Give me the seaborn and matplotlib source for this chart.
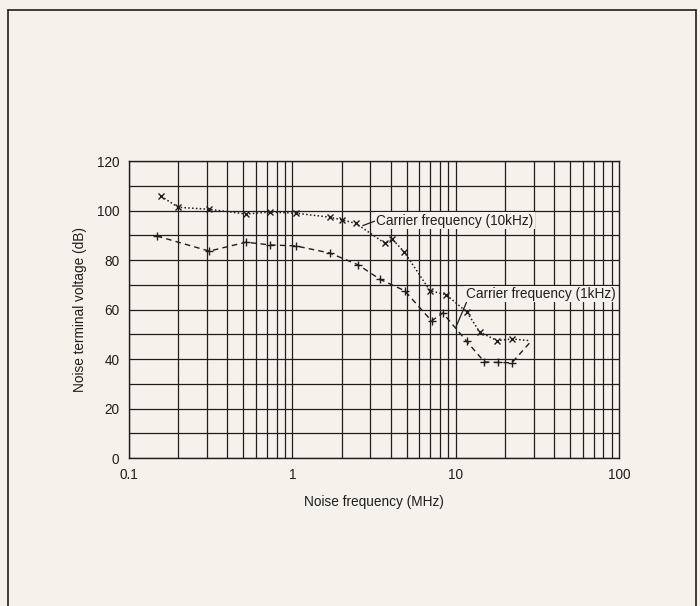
import matplotlib
matplotlib.use("Agg")
import matplotlib.pyplot as plt
import seaborn as sns
import pandas as pd
from matplotlib.lines import Line2D

# data
freq_10k = [0.157, 0.2, 0.31, 0.52, 0.73, 1.05, 1.70, 2.02, 2.45, 3.7, 4.1, 4.85,
            6.97, 8.73, 11.7, 14.0, 17.9, 22.1, 28.7]
db_10k = [105.8, 101.3, 100.5, 98.6, 99.4, 98.9, 97.3, 96.2, 94.8, 86.7, 88.4, 83.2,
          67.6, 66.0, 59.0, 51.0, 47.4, 48.1, 47.4]

freq_1k = [0.148, 0.31, 0.52, 0.73, 1.05, 1.70, 2.54, 3.44, 4.87, 7.12, 8.34, 11.7,
           15.0, 18.1, 22.1, 28.7]
db_1k = [89.7, 83.6, 87.2, 86.1, 85.7, 82.8, 78.0, 72.2, 67.6, 55.4, 58.6, 47.1,
         38.8, 38.6, 38.5, 46.9]

x_ticks = [0.1, 1, 10, 100]
x_tick_labels = ["0.1", "1", "10", "100"]
y_ticks = [0, 20, 40, 60, 80, 100, 120]

label_10k = "Carrier frequency (10kHz)"
label_1k = "Carrier frequency (1kHz)"

bg = "#f5f2eb"
ink = "#1e1e1e"
fs = 9.8

sns.set_theme(style="white")
plt.rcParams["font.family"] = ["Liberation Sans", "DejaVu Sans"]

fig = plt.figure(figsize=(7.0, 6.06), dpi=100, facecolor=bg)
ax = fig.add_axes([0.1843, 0.2442, 0.70, 0.4901])
ax.set_facecolor(bg)

df_10k = pd.DataFrame({"freq": freq_10k, "db": db_10k})
df_1k = pd.DataFrame({"freq": freq_1k, "db": db_1k})

sns.lineplot(data=df_10k, x="freq", y="db", ax=ax, color=ink, linestyle=(0, (1, 1.5)),
             linewidth=1.1, marker="x", markersize=4, markeredgewidth=1.0,
             markeredgecolor=ink, markevery=list(range(len(freq_10k) - 1)), zorder=3)
sns.lineplot(data=df_1k, x="freq", y="db", ax=ax, color=ink, linestyle=(0, (4, 3)),
             linewidth=1.0, marker="+", markersize=6, markeredgewidth=1.0,
             markeredgecolor=ink, markevery=list(range(len(freq_1k) - 1)), zorder=3)

ax.set_xscale("log")
ax.set_xlim(0.1, 100)
ax.set_ylim(0, 120)

# grid: every decade step and every 10 dB
for d in [0.1, 1, 10]:
    for k in range(1, 10):
        ax.axvline(d * k, color=ink, linewidth=0.9, zorder=1)
for v in range(0, 121, 10):
    ax.axhline(v, color=ink, linewidth=0.9, zorder=1)

ax.set_xticks(x_ticks)
ax.set_xticklabels(x_tick_labels)
ax.set_xticks([], minor=True)
ax.set_yticks(y_ticks)
ax.tick_params(axis="both", length=0, labelsize=fs, colors=ink, pad=7)

for s in ax.spines.values():
    s.set_color(ink)
    s.set_linewidth(1.0)

ax.set_xlabel("Noise frequency (MHz)", fontsize=fs, color=ink, labelpad=9.5)
ax.set_ylabel("Noise terminal voltage (dB)", fontsize=fs, color=ink, labelpad=7)

box = dict(boxstyle="square,pad=0.1", facecolor=bg, edgecolor="none")
ax.annotate(label_10k, xy=(2.7, 93.9), xytext=(3.25, 95.9), ha="left", va="center",
            fontsize=fs, color=ink, bbox=box, zorder=5,
            arrowprops=dict(arrowstyle="-", color=ink, lw=0.9, shrinkA=0, shrinkB=0,
                            relpos=(0, 0.5)))
ax.annotate(label_1k, xy=(10.06, 53.1), xytext=(11.5, 66.3), ha="left", va="center",
            fontsize=fs, color=ink, bbox=box, zorder=5,
            arrowprops=dict(arrowstyle="-", color=ink, lw=0.9, shrinkA=0, shrinkB=0,
                            relpos=(0.01, 0)))

# outer frame of the page
W, H = 700, 606
for x0, y0, x1, y1 in [(8, 10, 8, 606), (8, 10, 696, 10), (696, 10, 696, 606)]:
    fig.add_artist(Line2D([x0 / W, x1 / W], [1 - y0 / H, 1 - y1 / H],
                          color=ink, linewidth=1.2, transform=fig.transFigure))

fig.savefig("out.png", dpi=100, facecolor=bg)
